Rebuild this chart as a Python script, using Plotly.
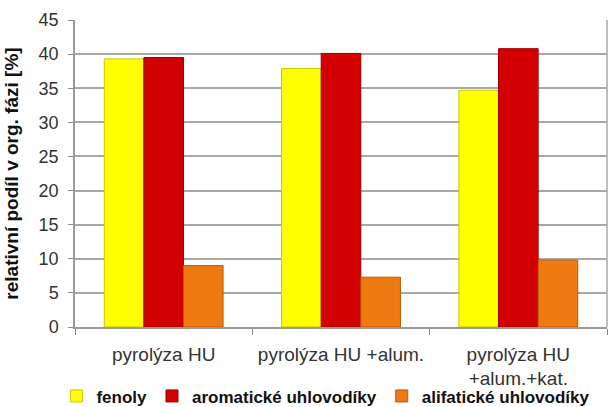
import plotly.graph_objects as go

# Categories and series values
categories = ["pyrolýza HU", "pyrolýza HU +alum.", "pyrolýza HU<br>+alum.+kat."]
fenoly = [39.3, 37.9, 34.7]
aromaticke = [39.5, 40.1, 40.8]
alifaticke = [9.0, 7.3, 9.8]

y_ticks = [0, 5, 10, 15, 20, 25, 30, 35, 40, 45]

FONT = "Liberation Sans, Arial, sans-serif"

fig = go.Figure()
fig.add_trace(go.Bar(name="fenoly", x=categories, y=fenoly,
                     marker=dict(color="#FFFF00", line=dict(color="#C9C400", width=1))))
fig.add_trace(go.Bar(name="aromatické uhlovodíky", x=categories, y=aromaticke,
                     marker=dict(color="#D20000", line=dict(color="#9E0000", width=1))))
fig.add_trace(go.Bar(name="alifatické uhlovodíky", x=categories, y=alifaticke,
                     marker=dict(color="#F07A12", line=dict(color="#B85A08", width=1))))

fig.update_layout(
    width=608, height=407,
    margin=dict(l=75, r=1, t=20, b=80, autoexpand=False),
    paper_bgcolor="white", plot_bgcolor="white",
    barmode="group", bargap=0.33, bargroupgap=0,
    font=dict(family=FONT, color="#222222"),
    showlegend=True,
    legend=dict(orientation="h", x=-0.035, xanchor="left", y=-0.226, yanchor="middle",
                bgcolor="rgba(0,0,0,0)",
                font=dict(family=FONT, size=17, color="#111111", weight="bold"),
                itemwidth=30, tracegroupgap=0, traceorder="normal"),
    xaxis=dict(
        type="category", tickson="boundaries", ticks="outside", ticklen=6,
        tickcolor="#888888", showline=True, linecolor="#999999", linewidth=1.5,
        tickfont=dict(family=FONT, size=19, color="#333333"),
        ticklabelstandoff=9, showgrid=False, automargin=False,
    ),
    yaxis=dict(
        range=[0, 45], tickvals=y_ticks, ticks="outside", ticklen=5,
        tickcolor="#888888", showline=True, linecolor="#999999", linewidth=1.5,
        gridcolor="#A8A8A8", gridwidth=1.5, automargin=False,
        tickfont=dict(family=FONT, size=18, color="#333333"),
        ticklabelstandoff=6,
        title=dict(text="relativní podíl v org. fázi [%]", standoff=15,
                   font=dict(family=FONT, size=19, color="#111111", weight="bold")),
    ),
)

# right border of the plot frame
fig.add_shape(type="line", xref="paper", yref="paper", x0=1, x1=1, y0=0, y1=1,
              line=dict(color="#A8A8A8", width=1.5))

fig.write_html("out.html")
